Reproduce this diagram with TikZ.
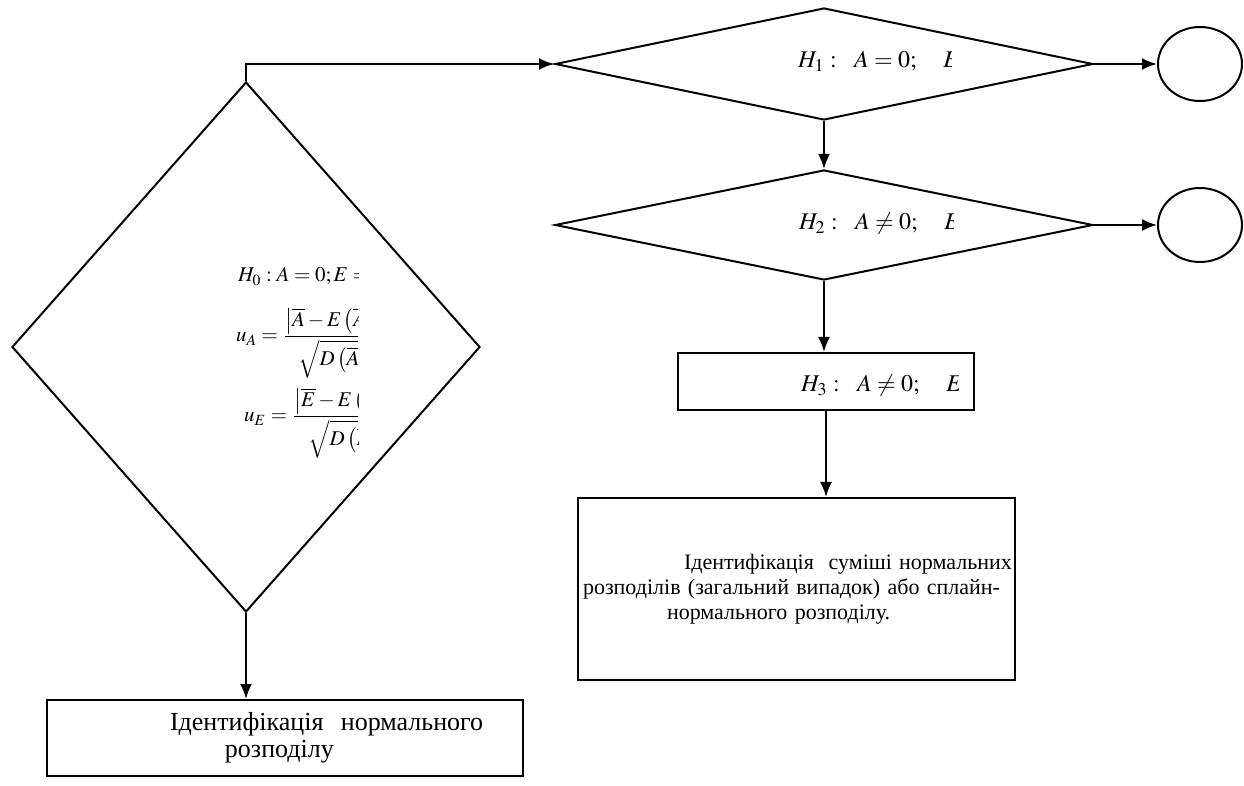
\documentclass[tikz,border=0pt]{standalone}
\usepackage{mathptmx}
\usepackage{fontspec}
\setmainfont{Liberation Serif}
\usetikzlibrary{arrows.meta,shapes.geometric}

\begin{document}
\begin{tikzpicture}[x=0.5pt,y=-0.5pt,line width=1pt,
  >={Latex[length=7.5pt,width=6pt]},
  dec/.style={draw,diamond,inner sep=0pt},
  blk/.style={draw,rectangle,inner sep=0pt},
  term/.style={draw,ellipse,minimum width=42pt,minimum height=37pt,inner sep=0pt},
  frm/.style={font=\fontsize{10.5}{13}\selectfont,inner sep=0pt,anchor=base west},
  hyp/.style={font=\fontsize{12}{14}\selectfont,inner sep=0pt,anchor=base west}]
  \useasboundingbox (0,0) rectangle (1244,786);
  % decisions
  \node[dec,minimum width=234pt,minimum height=265pt] (d0) at (246,347) {};
  \node[dec,minimum width=269pt,minimum height=56pt] (d1) at (824,64) {};
  \node[dec,minimum width=269pt,minimum height=55pt] (d2) at (824,225) {};
  \node[term] (t1) at (1200,64) {};
  \node[term] (t2) at (1200,225) {};
  % blocks
  \node[blk,minimum width=148pt,minimum height=28.5pt] (b3) at (826,381.5) {};
  \node[blk,font=\fontsize{11}{12.5}\selectfont,text width=218.5pt,minimum height=91pt,align=left] (mix) at (796.5,589)
    {\mbox{\hspace*{53pt}Ідентифікація\ \ суміші нормальних}\\
     \mbox{\hspace*{2.5pt}розподілів (загальний випадок) або сплайн-}\\
     \mbox{\hspace*{44.5pt}нормального розподілу.}};
  \node[blk,font=\fontsize{13}{13.5}\selectfont,text width=238pt,minimum height=38pt,align=left] (norm) at (285,738)
    {\mbox{\hspace*{61.5pt}Ідентифікація\ \ нормального}\\
     \mbox{\hspace*{89pt}розподілу}};
  % hypotheses (cut off as printed)
  \begin{scope}
    \clip (220,250) rectangle (358,470);
    \node[frm] (h0) at (237,282) {$H_0:A=0;E=0$};
    \node[frm] (ua) at (235,342)
      {$u_A=\displaystyle\frac{\left|\overline{A}-E\left(\overline{A}\right)\right|}{\sqrt{D\left(\overline{A}\right)}}$};
    \node[frm] (ue) at (243,422)
      {$u_E=\displaystyle\frac{\left|\overline{E}-E\left(\overline{E}\right)\right|}{\sqrt{D\left(\overline{E}\right)}}$};
  \end{scope}
  \begin{scope}
    \clip (780,30) rectangle (951,100);
    \node[hyp] (h1) at (797,68) {$H_1:\ \ A=0;\quad E=0$};
  \end{scope}
  \begin{scope}
    \clip (780,190) rectangle (953,260);
    \node[hyp] (h2) at (798,230) {$H_2:\ \ A\neq0;\quad E=0$};
  \end{scope}
  \begin{scope}
    \clip (780,360) rectangle (958,405);
    \node[hyp] (h3) at (800,392) {$H_3:\ \ A\neq0;\quad E\neq0$};
  \end{scope}
  % connectors
  \draw[->] (d0.north) |- (d1.west);
  \draw[->] (d1.east) -- (t1.west);
  \draw[->] (d1.south) -- (d2.north);
  \draw[->] (d2.east) -- (t2.west);
  \draw[->] (d2.south) -- (d2.south |- b3.north);
  \draw[->] (b3.south) -- (b3.south |- mix.north);
  \draw[->] (d0.south) -- (d0.south |- norm.north);
\end{tikzpicture}
\end{document}
